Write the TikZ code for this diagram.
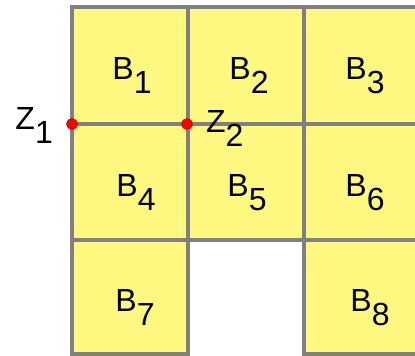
\documentclass[tikz,border=0pt]{standalone}
\usepackage{fontspec}
\setmainfont{Liberation Sans}
\usetikzlibrary{positioning}

\newcommand{\lowsub}[1]{\raisebox{-14pt}{#1}}

\begin{document}
\begin{tikzpicture}[
  x=1pt, y=-1pt,
  font=\fontsize{32}{36}\selectfont,
  cell/.style={draw=black!50, line width=3.5pt, fill=yellow!50, minimum width=116pt, inner sep=0pt},
  rowa/.style={cell, minimum height=117pt},
  rowb/.style={cell, minimum height=116pt},
  rowc/.style={cell, minimum height=114pt},
  blabel/.style={anchor=base, inner sep=0pt, yshift=-14pt},
  pt/.style={circle, draw=red!75!black, fill=red, line width=0.6pt, inner sep=0pt, minimum size=11pt},
  zlabel/.style={inner sep=0pt}
]
\useasboundingbox (0,0) rectangle (415,356);

% cells of the grid
\node[rowa] (c1) at (130,65.5) {};
\node[rowa] (c2) at (246,65.5) {};
\node[rowa] (c3) at (362,65.5) {};
\node[rowb] (c4) at (130,182) {};
\node[rowb] (c5) at (246,182) {};
\node[rowb] (c6) at (362,182) {};
\node[rowc] (c7) at (130,297) {};
\node[rowc] (c8) at (362,297) {};

% block names
\node[blabel, xshift=2pt] (b1) at (c1.center) {B\lowsub{1}};
\node[blabel, xshift=3pt] (b2) at (c2.center) {B\lowsub{2}};
\node[blabel, xshift=3pt] (b3) at (c3.center) {B\lowsub{3}};
\node[blabel, xshift=6pt] (b4) at (c4.center) {B\lowsub{4}};
\node[blabel, xshift=1pt] (b5) at (c5.center) {B\lowsub{5}};
\node[blabel, xshift=3pt] (b6) at (c6.center) {B\lowsub{6}};
\node[blabel, xshift=5pt] (b7) at (c7.center) {B\lowsub{7}};
\node[blabel, xshift=8pt] (b8) at (c8.center) {B\lowsub{8}};

% points on the line
\node[pt] (z1) at (72,124) {};
\node[pt] (z2) at (187,124) {};
\node[zlabel, anchor=base east] (z1l) at (53,129) {Z\lowsub{1}};
\node[zlabel, anchor=base west] (z2l) at (206,132) {Z\lowsub{2}};

\end{tikzpicture}
\end{document}
